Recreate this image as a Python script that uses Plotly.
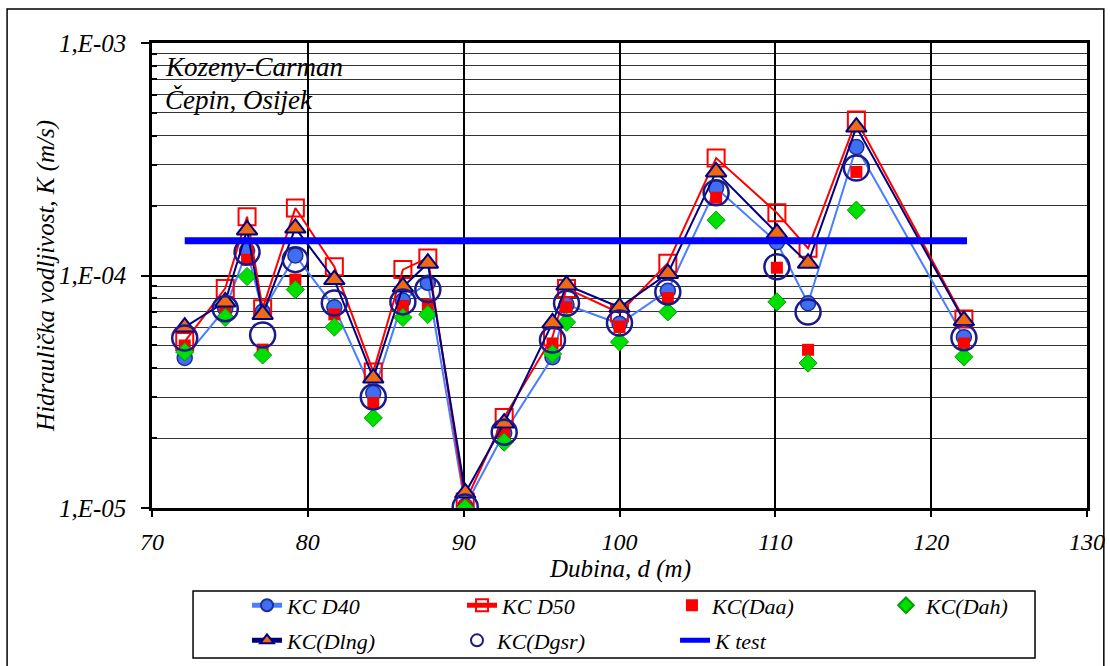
import plotly.graph_objects as go

# ---- data ----
depth = [72.1, 74.7, 76.1, 77.1, 79.2, 81.7, 84.2, 86.1, 87.7, 90.1,
         92.6, 95.7, 96.6, 100.0, 103.1, 106.2, 110.1, 112.1, 115.2, 122.1]
kc_d40 = [4.42e-5, 7.2e-5, 1.28e-4, 7.0e-5, 1.22e-4, 7.3e-5, 3.12e-5, 7.8e-5, 9.3e-5, 1.02e-5,
          2.1e-5, 4.45e-5, 7.5e-5, 6.2e-5, 8.6e-5, 2.38e-4, 1.39e-4, 7.6e-5, 3.57e-4, 5.43e-5]
kc_d50 = [5.2e-5, 8.8e-5, 1.79e-4, 7.2e-5, 1.95e-4, 1.09e-4, 3.85e-5, 1.06e-4, 1.19e-4, 1.06e-5,
          2.45e-5, 5.44e-5, 8.8e-5, 6.9e-5, 1.13e-4, 3.2e-4, 1.86e-4, 1.31e-4, 4.66e-4, 6.5e-5]
kc_daa = [5.0e-5, 7.3e-5, 1.17e-4, 4.8e-5, 9.6e-5, 6.8e-5, 2.83e-5, 7.4e-5, 7.5e-5, 1.02e-5,
          2.1e-5, 5.1e-5, 7.3e-5, 6.0e-5, 8.0e-5, 2.16e-4, 1.08e-4, 4.79e-5, 2.79e-4, 5.1e-5]
kc_dah = [4.69e-5, 6.6e-5, 9.9e-5, 4.55e-5, 8.7e-5, 6.0e-5, 2.44e-5, 6.6e-5, 6.8e-5, 1.0e-5,
          1.92e-5, 4.6e-5, 6.3e-5, 5.18e-5, 6.97e-5, 1.73e-4, 7.7e-5, 4.2e-5, 1.91e-4, 4.47e-5]
kc_dlng = [6.0e-5, 7.7e-5, 1.57e-4, 6.8e-5, 1.6e-4, 9.6e-5, 3.62e-5, 8.93e-5, 1.13e-4, 1.16e-5,
           2.32e-5, 6.25e-5, 9.1e-5, 7.3e-5, 1.02e-4, 2.79e-4, 1.52e-4, 1.13e-4, 4.35e-4, 6.4e-5]
kc_dgsr = [5.38e-5, 7.2e-5, 1.26e-4, 5.55e-5, 1.17e-4, 7.62e-5, 3.0e-5, 7.7e-5, 8.7e-5, 1.01e-5,
           2.12e-5, 5.28e-5, 7.6e-5, 6.25e-5, 8.5e-5, 2.27e-4, 1.09e-4, 6.97e-5, 2.9e-4, 5.4e-5]
ktest_depth = [72.1, 122.3]
ktest_value = [1.41e-4, 1.41e-4]

x_ticks = [70, 80, 90, 100, 110, 120, 130]
y_major = [1e-5, 1e-4, 1e-3]
y_major_text = ["1,E-05", "1,E-04", "1,E-03"]
y_minor = [m * 10.0 ** e for e in (-5, -4) for m in range(2, 10)]

FONT = "Liberation Serif"

fig = go.Figure()

fig.add_trace(go.Scatter(x=depth, y=kc_d40, name="KC D40", mode="lines+markers", legend="legend",
                         line=dict(color="#4a7dff", width=2),
                         marker=dict(symbol="circle", size=15, color="#3f6ff0",
                                     line=dict(color="#1c2f9a", width=1.5))))
fig.add_trace(go.Scatter(x=depth, y=kc_d50, name="KC D50", mode="lines+markers", legend="legend2",
                         line=dict(color="#ff0000", width=2),
                         marker=dict(symbol="square-open", size=17, color="#ff0000",
                                     line=dict(width=2))))
fig.add_trace(go.Scatter(x=depth, y=kc_daa, name="KC(Daa)", mode="markers", legend="legend3",
                         marker=dict(symbol="square", size=12, color="#ff0000")))
fig.add_trace(go.Scatter(x=depth, y=kc_dah, name="KC(Dah)", mode="markers", legend="legend4",
                         marker=dict(symbol="diamond", size=14, color="#00e000",
                                     line=dict(color="#00a000", width=1))))
fig.add_trace(go.Scatter(x=depth, y=kc_dlng, name="KC(Dlng)", mode="lines+markers", legend="legend5",
                         line=dict(color="#000080", width=2),
                         marker=dict(symbol="triangle-up", size=18, color="#f06a10",
                                     line=dict(color="#000080", width=2))))
fig.add_trace(go.Scatter(x=depth, y=kc_dgsr, name="KC(Dgsr)", mode="markers", legend="legend6",
                         marker=dict(symbol="circle-open", size=25, color="#1a1a8c",
                                     line=dict(width=2.5))))
fig.add_trace(go.Scatter(x=ktest_depth, y=ktest_value, name="K test", mode="lines", legend="legend7",
                         line=dict(color="#0000ff", width=7)))

fig.update_xaxes(range=[70, 130], tickmode="array", tickvals=x_ticks,
                 ticks="outside", ticklen=6, tickcolor="black", tickwidth=2,
                 ticklabelstandoff=4,
                 showgrid=True, gridcolor="black", gridwidth=2,
                 showline=True, linecolor="black", linewidth=2.5, mirror=True,
                 zeroline=False, automargin=False,
                 tickfont=dict(size=24, color="black", style="italic"))
fig.update_yaxes(type="log", range=[-5, -3], tickmode="array", tickvals=y_major,
                 ticktext=y_major_text, ticks="outside", ticklen=8, tickcolor="black",
                 tickwidth=2, ticklabelstandoff=10,
                 showgrid=True, gridcolor="black", gridwidth=2,
                 showline=True, linecolor="black", linewidth=2.5, mirror=True,
                 zeroline=False, automargin=False,
                 minor=dict(tickmode="array", tickvals=y_minor, showgrid=True,
                            gridcolor="#333333", gridwidth=1.3, ticks="inside",
                            ticklen=5, tickcolor="black"),
                 tickfont=dict(size=25, color="black", style="italic"))

# Outer chart border
fig.add_shape(type="rect", xref="paper", yref="paper",
              x0=-0.155, x1=1.018, y0=-0.35, y1=1.073,
              line=dict(color="black", width=1.5), fillcolor="rgba(0,0,0,0)")
# Legend box
fig.add_shape(type="rect", xref="paper", yref="paper",
              x0=0.0439, x1=0.9444, y0=-0.3226, y1=-0.1785,
              line=dict(color="black", width=1.5), fillcolor="rgba(0,0,0,0)")
# Title box
fig.add_shape(type="rect", xref="paper", yref="paper", layer="between",
              x0=0.0064, x1=0.215, y0=0.839, y1=0.997,
              line=dict(width=0), fillcolor="white")
fig.add_annotation(xref="paper", yref="paper", x=0.012, y=0.948, xanchor="left",
                   yanchor="middle", showarrow=False, text="Kozeny-Carman",
                   font=dict(size=27, color="black", style="italic"))
fig.add_annotation(xref="paper", yref="paper", x=0.012, y=0.878, xanchor="left",
                   yanchor="middle", showarrow=False, text="Čepin, Osijek",
                   font=dict(size=27, color="black", style="italic"))
# Axis titles
fig.add_annotation(xref="paper", yref="paper", x=-0.114, y=0.5, xanchor="center",
                   yanchor="middle", showarrow=False, textangle=-90,
                   text="Hidraulička vodljivost, K (m/s)",
                   font=dict(size=25, color="black", style="italic"))
fig.add_annotation(xref="paper", yref="paper", x=0.5, y=-0.132, xanchor="center",
                   yanchor="middle", showarrow=False, text="Dubina, d (m)",
                   font=dict(size=25, color="black", style="italic"))

legend_x = [0.1016, 0.3316, 0.5561, 0.7850, 0.1016, 0.3262, 0.5594]
legend_y = [-0.2097] * 4 + [-0.285] * 3
legends = {}
for i, (lx, ly) in enumerate(zip(legend_x, legend_y)):
    key = "legend" if i == 0 else f"legend{i + 1}"
    legends[key] = dict(x=lx, y=ly, xanchor="left", yanchor="middle",
                        borderwidth=0, bgcolor="rgba(0,0,0,0)", itemsizing="constant",
                        font=dict(size=22, color="black", style="italic"))

fig.update_layout(
    template="none",
    font=dict(family=FONT, color="black"),
    width=1110, height=666,
    margin=dict(l=152, r=23, t=43, b=158, autoexpand=False),
    paper_bgcolor="white", plot_bgcolor="white",
    showlegend=True,
    **legends,
)

fig.write_html("out.html", config={"displayModeBar": False},
               post_script="document.body.style.margin='0';")
